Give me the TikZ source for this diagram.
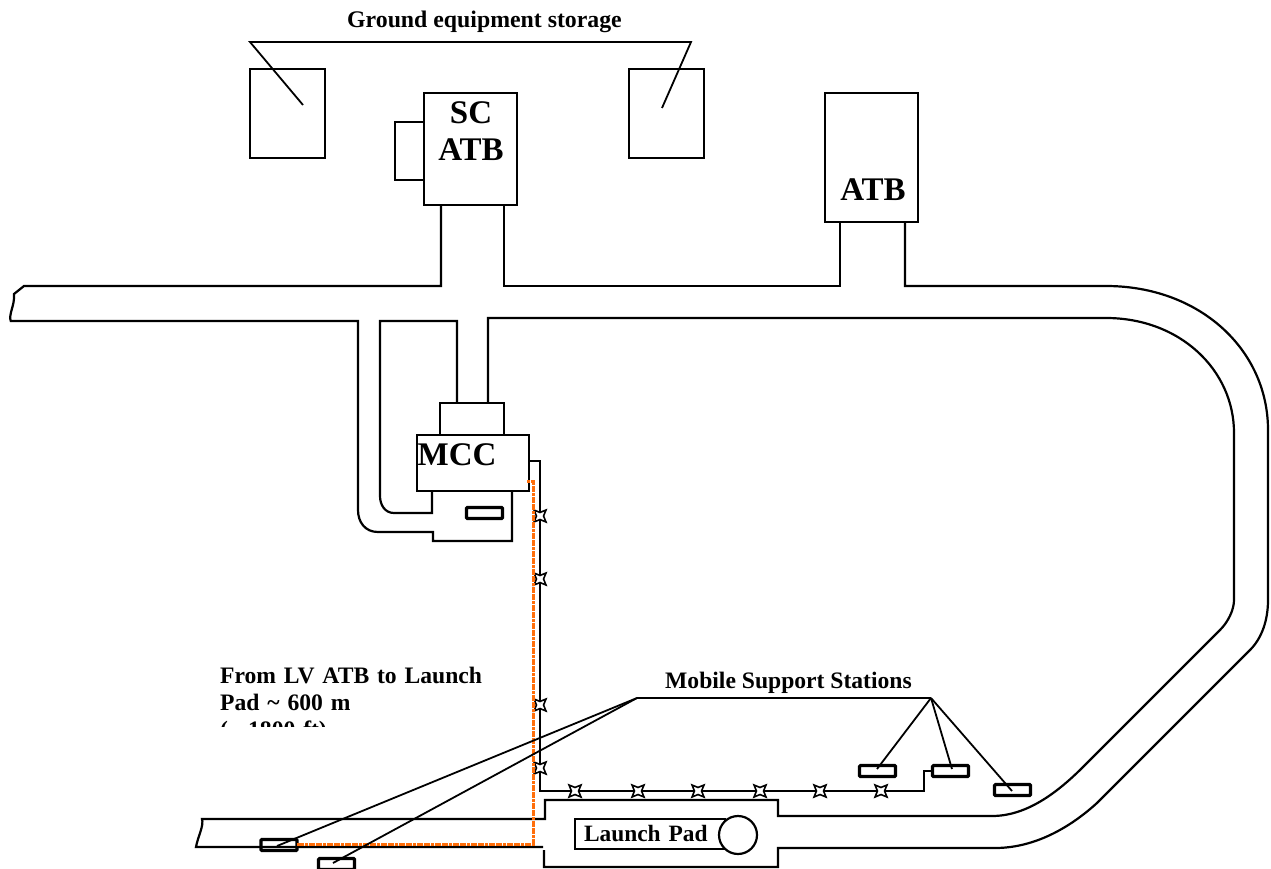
\documentclass[tikz,border=0pt]{standalone}
\usepackage{fontspec}
\setmainfont{Liberation Serif}
\usetikzlibrary{shapes.geometric}
\definecolor{cableorange}{RGB}{255,110,10}

\begin{document}
\begin{tikzpicture}[
                x=1pt, y=-1pt,
                bldg/.style={rectangle, draw, line width=2.2pt, inner sep=0pt, outer sep=0pt, align=center, font=\fontsize{33}{37}\selectfont\bfseries},
                station/.style={rectangle, draw, line width=3.2pt, rounded corners=1pt, minimum width=36pt, minimum height=11pt, inner sep=0pt, outer sep=0pt},
                joint/.style={star, star points=4, star point ratio=0.42, draw, line width=1.6pt, minimum size=7.1pt, inner sep=0pt, outer sep=0pt},
                label/.style={font=\fontsize{23.6}{27}\selectfont\bfseries, inner sep=0pt, align=left},
                road/.style={line width=2.2pt},
                wire/.style={line width=1.6pt},
                leader/.style={line width=1.8pt},
                cable/.style={draw=cableorange, line width=3pt, dash pattern=on 3pt off 0.6pt}
            ]
                \clip (0,0) rectangle (1271,869);

                \node[bldg, minimum width=75pt, minimum height=89pt] (storea) at (287.5,113.5) {};
                \node[bldg, minimum width=75pt, minimum height=89pt] (storeb) at (666.5,113.5) {};
                \node[bldg, minimum width=29pt, minimum height=58pt] (scside) at (409.5,151) {};
                \node[bldg, fill=white, minimum width=93pt, minimum height=112pt] (scatb) at (470.5,149) {};
                \node[bldg, draw=none] (scatbtext) at (471,131) {SC\\ATB};
                \node[bldg, minimum width=93pt, minimum height=129pt] (lvatb) at (871.5,157.5) {};
                \node[bldg, draw=none] (lvatbtext) at (873,190) {ATB};
                \node[bldg, minimum width=64pt, minimum height=32pt] (mccfront) at (472,419) {};
                \node[bldg, minimum width=112pt, minimum height=56pt] (mcc) at (473,463) {};
                \node[bldg, draw=none] (mcctext) at (457,455) {MCC};

                \node[font=\fontsize{23.8}{28}\selectfont\bfseries, inner sep=0pt, anchor=base west] (storelabel) at (347,28) {Ground equipment storage};
                \coordinate (storeleft) at (250,42);
                \coordinate (storeright) at (691,42);
                \coordinate (storetipa) at (303,105);
                \coordinate (storetipb) at (662,108);
                \draw[leader] (storetipa) -- (storeleft) -- (storeright) -- (storetipb);

                \draw[road] (11,322) .. controls (8,314) and (15,306) .. (14,294) -- (24,286) -- (441,286) -- (441,205);
                \draw[road] (504,205) -- (504,286) -- (840,286) -- (840,222);
                \draw[road] (905,222) -- (905,286) -- (1106,286) .. controls (1200,286) and (1268,350) .. (1268,430) -- (1268,600) .. controls (1268,620) and (1262,638) .. (1250,650) -- (1097,803) .. controls (1065,832) and (1030,848) .. (995,848) -- (778,848) -- (778,867) -- (544,867) -- (544,850);
                \draw[road] (488,403) -- (488,318) -- (1106,318) .. controls (1180,318) and (1234,370) .. (1234,433) -- (1234,600) .. controls (1234,610) and (1228,622) .. (1220,630) -- (1083,767) .. controls (1055,795) and (1025,816) .. (992,816) -- (778,816) -- (778,800) -- (545,800) -- (545,819) -- (202,819) .. controls (204,826) and (198,836) .. (196,847) -- (543,847);
                \draw[road] (11,321) -- (358,321) -- (358,510) .. controls (358,522) and (365,532) .. (378,532) -- (433,532) -- (433,541) -- (512,541) -- (512,491);
                \draw[road] (457,403) -- (457,321) -- (380,321) -- (380,496) .. controls (380,505) and (385,513) .. (394,513) -- (432,513) -- (432,491);

                \node[bldg, minimum width=150pt, minimum height=30pt, font=\fontsize{23.4}{24}\selectfont\bfseries, text width=150pt, align=left, fill=white] (padbox) at (650,834) {\hspace{9pt}Launch Pad};
                \node[circle, draw, fill=white, line width=2.2pt, minimum size=38pt, inner sep=0pt] (padring) at (738,835) {};

                \node[station] (mccstn) at (484.5,513) {};
                \node[station] (stna) at (279,845) {};
                \node[station] (stnb) at (336.5,864) {};
                \node[station] (stnc) at (877.5,771) {};
                \node[station] (stnd) at (950.5,771) {};
                \node[station] (stne) at (1012.5,790) {};

                \node[joint] (ja) at (540,516) {};
                \node[joint] (jb) at (540,579) {};
                \node[joint] (jc) at (540,705) {};
                \node[joint] (jd) at (540,768) {};
                \node[joint] (je) at (575,791) {};
                \node[joint] (jf) at (638,791) {};
                \node[joint] (jg) at (698,791) {};
                \node[joint] (jh) at (760,791) {};
                \node[joint] (ji) at (820,791) {};
                \node[joint] (jj) at (881,791) {};

                \coordinate (wirestart) at (529,461);
                \coordinate (wiretop) at (540,461);
                \coordinate (wirecorner) at (540,791);
                \coordinate (wirerise) at (924,791);
                \coordinate (wirestep) at (924,771);
                \draw[wire] (wirestart) -- (wiretop) -- (ja);
                \draw[wire] (ja) -- (jb);
                \draw[wire] (jb) -- (jc);
                \draw[wire] (jc) -- (jd);
                \draw[wire] (jd) -- (wirecorner) -- (je);
                \draw[wire] (je) -- (jf);
                \draw[wire] (jf) -- (jg);
                \draw[wire] (jg) -- (jh);
                \draw[wire] (jh) -- (ji);
                \draw[wire] (ji) -- (jj);
                \draw[wire] (jj) -- (wirerise) -- (wirestep) -- (stnd);

                \coordinate (cablestart) at (527,481);
                \coordinate (cabletop) at (533,481);
                \coordinate (cablecorner) at (533,844);
                \draw[cable] (cablestart) -- (cabletop) -- (cablecorner) -- (stna.east |- cablecorner);

                \node[label, anchor=base west] (mobilelabel) at (665,688) {Mobile Support Stations};
                \coordinate (mobileleft) at (637,698);
                \coordinate (mobileright) at (931,698);
                \coordinate (tipa) at (277,846);
                \coordinate (tipb) at (333,863);
                \coordinate (tipc) at (877,769);
                \coordinate (tipd) at (952,769);
                \coordinate (tipe) at (1012,791);
                \draw[leader] (mobileleft) -- (mobileright);
                \draw[leader] (mobileleft) -- (tipa);
                \draw[leader] (mobileleft) -- (tipb);
                \draw[leader] (mobileright) -- (tipc);
                \draw[leader] (mobileright) -- (tipd);
                \draw[leader] (mobileright) -- (tipe);

                \begin{scope}
                    \clip (200,660) rectangle (520,726);
                    \node[label, anchor=north west, text width=290pt] (distlabel) at (220,667) {From LV ATB to Launch\\Pad \textasciitilde{} 600 m\\(\textasciitilde{} 1800 ft)};
                \end{scope}
            \end{tikzpicture}
\end{document}
